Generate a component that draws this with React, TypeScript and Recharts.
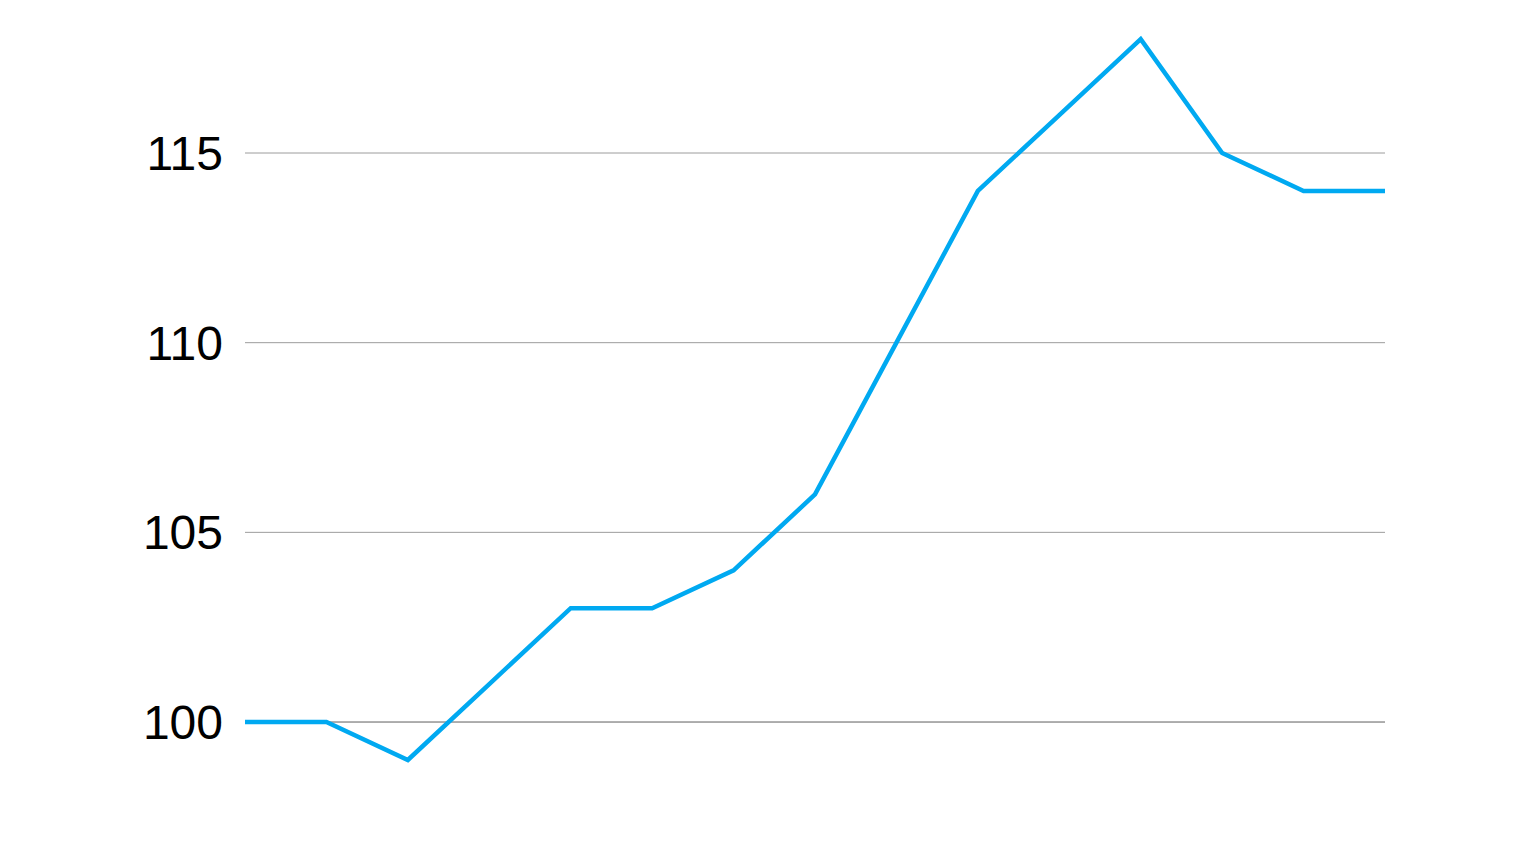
import React from "react";
import { LineChart, Line, XAxis, YAxis, ReferenceLine } from "recharts";

const categories = ["1", "2", "3", "4", "5", "6", "7", "8", "9", "10", "11", "12", "13", "14", "15"];
const values = [100, 100, 99, 101, 103, 103, 104, 106, 110, 114, 116, 118, 115, 114, 114];
const yTicks = [100, 105, 110, 115];

const data = categories.map((c, i) => ({ name: c, value: values[i] }));

export default function App() {
  return (
    <div style={{ width: 1520, height: 850 }}>
      <LineChart
        width={1520}
        height={850}
        data={data}
        margin={{ top: 31.2, right: 143, bottom: 60.1, left: 0 }}
      >
        <XAxis dataKey="name" hide padding={{ left: 0, right: 0 }} />
        <YAxis
          width={237}
          domain={[98, 118]}
          ticks={yTicks}
          axisLine={false}
          tickLine={false}
          tickSize={0}
          tickMargin={22}
          tick={{ fill: "#000", fontSize: 48, fontFamily: "Liberation Sans", fontWeight: 400 }}
        />
        {yTicks.map((t) => (
          <ReferenceLine
            key={t}
            y={t}
            stroke={t === 100 ? "#5e5e5e" : "#9c9c9c"}
            strokeWidth={1}
          />
        ))}
        <Line
          type="linear"
          dataKey="value"
          stroke="#00a9f1"
          strokeWidth={4.5}
          dot={false}
          isAnimationActive={false}
        />
      </LineChart>
    </div>
  );
}
